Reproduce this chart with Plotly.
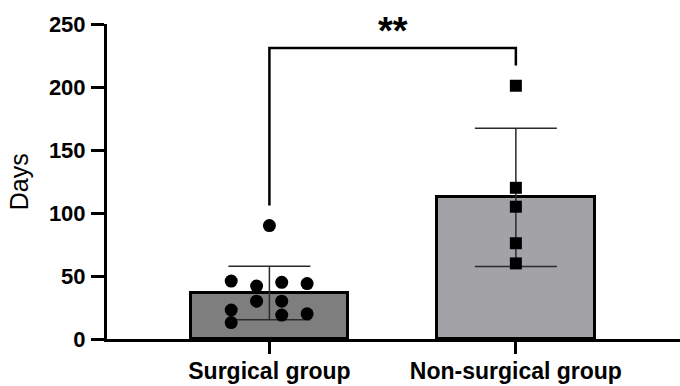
import numpy as np
import plotly.graph_objects as go

# Group labels and per-patient durations (days)
groups = ["Surgical group", "Non-surgical group"]
surgical_days = [90, 46, 42, 45, 44, 30, 30, 23, 13, 19, 20]
nonsurgical_days = [201, 120, 105, 76, 60]
y_ticks = [0, 50, 100, 150, 200, 250]
significance = "**"

# Bar heights are the group means, error bars one standard deviation
means = [float(np.mean(surgical_days)), float(np.mean(nonsurgical_days))]
sds = [float(np.std(surgical_days, ddof=1)), float(np.std(nonsurgical_days, ddof=1))]

# Horizontal spread of the dots inside each bar (in category units)
surgical_offsets = [0, -0.155, -0.052, 0.05, 0.153, -0.052, 0.05, -0.155, -0.155, 0.05, 0.153]
nonsurgical_offsets = [0] * len(nonsurgical_days)

FONT = "Liberation Sans, Arial, Helvetica, sans-serif"
bar_colors = ["#7e7e7e", "#a3a2a7"]

fig = go.Figure()

fig.add_trace(go.Bar(
    x=[0, 1],
    y=means,
    width=0.64,
    marker=dict(color=bar_colors, line=dict(color="black", width=3)),
    error_y=dict(type="data", array=sds, visible=True,
                 thickness=1.5, width=41, color="#2a2a2a"),
    showlegend=False,
    hoverinfo="skip",
))

fig.add_trace(go.Scatter(
    x=[0 + o for o in surgical_offsets],
    y=surgical_days,
    mode="markers",
    marker=dict(symbol="circle", size=13, color="black"),
    cliponaxis=False,
    showlegend=False,
))

fig.add_trace(go.Scatter(
    x=[1 + o for o in nonsurgical_offsets],
    y=nonsurgical_days,
    mode="markers",
    marker=dict(symbol="square", size=12, color="black"),
    cliponaxis=False,
    showlegend=False,
))

# Significance bracket between the two groups
bracket_top = 231
left_foot = max(surgical_days) + 16
right_foot = max(nonsurgical_days) + 16
fig.add_shape(
    type="path",
    xref="x", yref="y",
    path=f"M 0 {left_foot} L 0 {bracket_top} L 1 {bracket_top} L 1 {right_foot}",
    line=dict(color="black", width=2.5),
)
fig.add_annotation(
    x=0.5, y=bracket_top, xref="x", yref="y",
    text=significance, showarrow=False,
    yanchor="bottom", yshift=-6,
    font=dict(family=FONT, size=38, color="black", weight="bold"),
)

# Vertical axis title
fig.add_annotation(
    x=-0.154, y=0.5, xref="paper", yref="paper",
    text="Days", showarrow=False, textangle=-90,
    xanchor="center", yanchor="middle",
    font=dict(family=FONT, size=25, color="black"),
)

fig.update_layout(
    width=680, height=386,
    margin=dict(l=106.5, r=0, t=23.5, b=46.5, pad=0),
    paper_bgcolor="white",
    plot_bgcolor="white",
    bargap=0,
    xaxis=dict(
        range=[-0.659, 1.666],
        tickvals=[0, 1],
        ticktext=groups,
        showgrid=False, zeroline=False,
        showline=True, linecolor="black", linewidth=3,
        ticks="outside", ticklen=12, tickwidth=3, tickcolor="black",
        ticklabelstandoff=-3,
        tickfont=dict(family=FONT, size=23, color="black", weight="bold"),
    ),
    yaxis=dict(
        range=[0, 250],
        tickvals=y_ticks,
        showgrid=False, zeroline=False,
        showline=True, linecolor="black", linewidth=3,
        ticks="outside", ticklen=13, tickwidth=3, tickcolor="black",
        ticklabelstandoff=1,
        tickfont=dict(family=FONT, size=22, color="black", weight="bold"),
    ),
)

fig.write_html("out.html")
